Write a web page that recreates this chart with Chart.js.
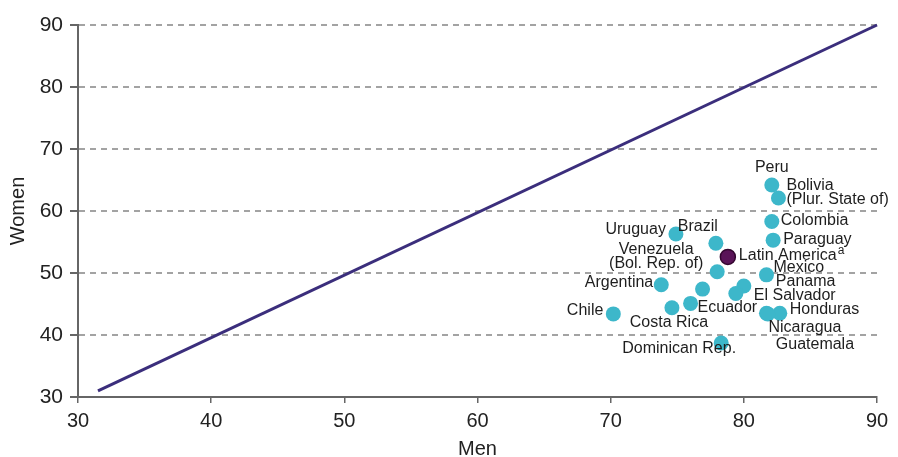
<!DOCTYPE html>
<html>
<head>
<meta charset="utf-8">
<script src="https://cdn.jsdelivr.net/npm/chart.js@4.4.1/dist/chart.umd.min.js"></script>
<style>
html,body{margin:0;padding:0;background:#fff;}
#wrap{width:898px;height:457px;position:relative;}
</style>
</head>
<body>
<div id="wrap"><canvas id="c" width="898" height="457"></canvas></div>
<script>
// ---- data ----
const countries = ['Peru','Bolivia','Colombia','Paraguay','Uruguay','Brazil','Venezuela','Mexico','Panama','El Salvador','Argentina','','Ecuador','Costa Rica','Chile','Honduras','Nicaragua','Guatemala','Dominican Rep.'];
const menValues   = [82.1, 82.6, 82.1, 82.2, 74.9, 77.9, 78.0, 81.7, 80.0, 79.4, 73.8, 76.9, 76.0, 74.6, 70.2, 82.7, 81.7, 81.8, 78.3];
const womenValues = [64.2, 62.1, 58.3, 55.3, 56.3, 54.8, 50.2, 49.7, 47.9, 46.7, 48.1, 47.4, 45.1, 44.4, 43.4, 43.5, 43.5, 43.4, 38.7];
const regionName = 'Latin America';
const regionMen = [78.8];
const regionWomen = [52.6];
const equalityMen = [31.5, 90];
const equalityWomen = [31, 90];
const axisTicks = [30, 40, 50, 60, 70, 80, 90];

// ---- label placement (style, pixels relative to each point) ----
const labelLines = {
  'Bolivia': ['Bolivia', '(Plur. State of)'],
  'Venezuela': ['Venezuela', '(Bol. Rep. of)']
};
const labelPlace = {
  'Peru': [0, -17, 'center'],
  'Bolivia': [8, -12, 'left'],
  'Colombia': [9, -1, 'left'],
  'Paraguay': [10, -1, 'left'],
  'Uruguay': [-10, -4, 'right'],
  'Brazil': [-18, -17, 'center'],
  'Venezuela': [-61, -22, 'center'],
  'Mexico': [7, -7, 'left'],
  'Panama': [32, -4, 'left'],
  'El Salvador': [18, 2, 'left'],
  'Argentina': [-8, -2, 'right'],
  'Ecuador': [7, 4, 'left'],
  'Costa Rica': [-3, 15, 'center'],
  'Chile': [-10, -3, 'right'],
  'Honduras': [10, -4, 'left'],
  'Nicaragua': [2, 14, 'left'],
  'Guatemala': [8, 31, 'left'],
  'Dominican Rep.': [-42, 6, 'center']
};
const regionPlace = [11, -1];

const FONT = "'Liberation Sans', Arial, sans-serif";

const labelPlugin = {
  id: 'labels',
  afterDatasetsDraw(chart) {
    const ctx = chart.ctx;
    ctx.save();
    ctx.fillStyle = '#1e1e1e';
    ctx.textBaseline = 'middle';
    ctx.font = '16px ' + FONT;
    const meta = chart.getDatasetMeta(1);
    meta.data.forEach((pt, i) => {
      const name = countries[i];
      if (!name || !labelPlace[name]) return;
      const [dx, dy, align] = labelPlace[name];
      const lines = labelLines[name] || [name];
      ctx.textAlign = align;
      lines.forEach((ln, k) => ctx.fillText(ln, pt.x + dx, pt.y + dy + k * 14));
    });
    const rm = chart.getDatasetMeta(2).data[0];
    ctx.textAlign = 'left';
    const x0 = rm.x + regionPlace[0], y0 = rm.y + regionPlace[1];
    ctx.fillText(regionName, x0, y0);
    const w = ctx.measureText(regionName).width;
    ctx.font = '12px ' + FONT;
    ctx.fillText('a', x0 + w + 1, y0 - 5);
    ctx.restore();
  }
};

// redraw solid axis lines on top of the dashed grid
const axisPlugin = {
  id: 'solidAxes',
  beforeDatasetsDraw(chart) {
    const ctx = chart.ctx, a = chart.chartArea;
    ctx.save();
    ctx.setLineDash([]);
    ctx.strokeStyle = '#666';
    ctx.lineWidth = 2;
    ctx.beginPath();
    ctx.moveTo(a.left, a.top - 1);
    ctx.lineTo(a.left, a.bottom);
    ctx.lineTo(a.right, a.bottom);
    ctx.stroke();
    ctx.restore();
  }
};

const toPts = (xs, ys) => xs.map((x, i) => ({x: x, y: ys[i]}));

new Chart(document.getElementById('c'), {
  type: 'scatter',
  data: {
    datasets: [
      {
        type: 'line',
        data: toPts(equalityMen, equalityWomen),
        borderColor: '#3b2e7c',
        borderWidth: 3,
        pointRadius: 0,
        fill: false,
        clip: false,
        order: 3
      },
      {
        data: toPts(menValues, womenValues),
        backgroundColor: '#3db7ca',
        borderColor: '#3db7ca',
        pointRadius: 7.5,
        pointBorderWidth: 0,
        clip: false,
        order: 2
      },
      {
        data: toPts(regionMen, regionWomen),
        backgroundColor: '#5a1458',
        borderColor: '#33062f',
        pointRadius: 7.5,
        pointBorderWidth: 1.5,
        clip: false,
        order: 1
      }
    ]
  },
  options: {
    responsive: false,
    animation: false,
    devicePixelRatio: 1,
    layout: { padding: { left: 0, right: 21, top: 25, bottom: 0 } },
    plugins: { legend: { display: false }, tooltip: { enabled: false } },
    scales: {
      x: {
        type: 'linear', min: 30, max: 90,
        afterBuildTicks: s => { s.ticks = axisTicks.map(v => ({value: v})); },
        afterFit: s => { s.height = 60; },
        ticks: { color: '#222', font: { size: 20, family: FONT }, padding: 6 },
        grid: { drawOnChartArea: false, color: '#666', tickLength: 6, lineWidth: 1.5 },
        border: { color: '#666', width: 2 },
        title: { display: true, text: 'Men', color: '#222', font: { size: 20, family: FONT, lineHeight: 1 }, padding: { top: 0, bottom: -2 } }
      },
      y: {
        type: 'linear', min: 30, max: 90,
        afterBuildTicks: s => { s.ticks = axisTicks.map(v => ({value: v})); },
        afterFit: s => { s.width = 78; },
        ticks: { color: '#222', font: { size: 21, family: FONT }, padding: 7 },
        grid: {
          color: c => (c.tick && c.tick.value === 30) ? 'rgba(0,0,0,0)' : '#a3a3a3',
          lineWidth: 2,
          tickLength: 8,
          tickColor: '#666',
          tickBorderDash: [],
          tickWidth: 2
        },
        border: { color: '#666', width: 2, dash: [6, 5] },
        title: { display: true, text: 'Women', color: '#222', font: { size: 20, family: FONT }, padding: { top: 6, bottom: 0 } }
      }
    }
  },
  plugins: [labelPlugin, axisPlugin]
});
</script>
</body>
</html>
